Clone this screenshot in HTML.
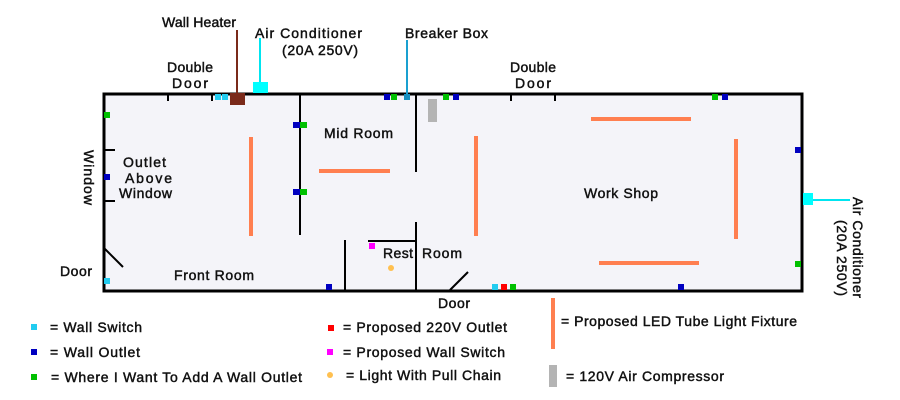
<!DOCTYPE html>
<html><head><meta charset="utf-8"><style>
html,body{margin:0;padding:0;background:#fff;width:900px;height:400px;overflow:hidden}
svg{display:block}
text{font-family:"Liberation Sans",sans-serif;font-size:14px;fill:#111;stroke:#111;stroke-width:0.45px}
</style></head><body>
<svg width="900" height="400" viewBox="0 0 900 400">
<rect x="104" y="94" width="698" height="197" fill="#f4f4f9" stroke="#000" stroke-width="3"/>
<g stroke="#000" stroke-width="2">
<line x1="168" y1="94" x2="168" y2="101"/><line x1="212" y1="94" x2="212" y2="101"/>
<line x1="511" y1="94" x2="511" y2="101"/><line x1="555" y1="94" x2="555" y2="101"/>
<line x1="103" y1="150" x2="115" y2="150"/><line x1="103" y1="201" x2="115" y2="201"/>
<line x1="300" y1="94" x2="300" y2="235"/>
<line x1="416" y1="94" x2="416" y2="172"/>
<line x1="416" y1="222" x2="416" y2="291"/>
<line x1="368" y1="241" x2="416" y2="241"/>
<line x1="345" y1="240" x2="345" y2="291"/>
<line x1="104" y1="248" x2="123" y2="267"/>
<line x1="450" y1="290" x2="468" y2="272"/>
</g>
<g stroke="#ff7f50" stroke-width="4">
<line x1="251" y1="137" x2="251" y2="236"/>
<line x1="319" y1="171" x2="390" y2="171"/>
<line x1="476" y1="136" x2="476" y2="236"/>
<line x1="591" y1="119" x2="691" y2="119"/>
<line x1="736" y1="139" x2="736" y2="239"/>
<line x1="599" y1="263" x2="699" y2="263"/>
<line x1="553" y1="298" x2="553" y2="349"/>
</g>
<line x1="237" y1="30" x2="237" y2="94" stroke="#7a2a1a" stroke-width="2"/>
<rect x="230" y="93" width="15" height="12" fill="#7a2a1a"/>
<line x1="260" y1="38" x2="260" y2="82" stroke="#00e5f0" stroke-width="2"/>
<rect x="253" y="82" width="15" height="11" fill="#00ffff"/>
<line x1="407" y1="40" x2="407" y2="94" stroke="#1aa0d0" stroke-width="2"/>
<rect x="404" y="94" width="6" height="6" fill="#1890c0"/>
<line x1="813" y1="200" x2="850" y2="200" stroke="#00e5f0" stroke-width="2"/>
<rect x="803" y="193" width="10" height="12" fill="#00ffff"/>
<rect x="428" y="99" width="9" height="23" fill="#b4b4b4"/>
<rect x="549" y="365" width="8" height="22" fill="#b4b4b4"/>
<g fill="#22ccf0">
<rect x="215" y="94" width="6" height="6"/><rect x="222" y="94" width="6" height="6"/>
<rect x="104" y="278" width="6" height="6"/><rect x="492" y="284" width="6" height="6"/>
<rect x="31" y="324" width="6" height="6"/>
</g>
<g fill="#0000c0">
<rect x="293" y="122" width="7" height="6"/><rect x="293" y="189" width="7" height="6"/>
<rect x="104" y="174" width="6" height="6"/><rect x="384" y="94" width="6" height="6"/>
<rect x="453" y="94" width="6" height="6"/><rect x="722" y="94" width="6" height="6"/>
<rect x="795" y="147" width="6" height="6"/><rect x="326" y="284" width="6" height="6"/>
<rect x="678" y="284" width="6" height="6"/><rect x="31" y="349" width="6" height="6"/>
</g>
<g fill="#00c000">
<rect x="300" y="122" width="7" height="6"/><rect x="300" y="189" width="7" height="6"/>
<rect x="104" y="112" width="6" height="6"/><rect x="391" y="94" width="6" height="6"/>
<rect x="443" y="94" width="6" height="6"/><rect x="712" y="94" width="6" height="6"/>
<rect x="795" y="261" width="6" height="6"/><rect x="510" y="284" width="6" height="6"/>
<rect x="31" y="374" width="6" height="6"/>
</g>
<rect x="501" y="284" width="6" height="6" fill="#ff0000"/>
<rect x="328" y="325" width="6" height="6" fill="#ff0000"/>
<rect x="369" y="243" width="6" height="6" fill="#ff00ff"/>
<rect x="327" y="349" width="6" height="6" fill="#ff00ff"/>
<circle cx="391" cy="268" r="3" fill="#ffc050"/>
<circle cx="330" cy="375" r="3" fill="#ffc050"/>

<text x="162" y="27" textLength="74">Wall Heater</text>
<text x="255" y="38" textLength="107">Air Conditioner</text>
<text x="282" y="55" textLength="76">(20A 250V)</text>
<text x="405" y="38" textLength="83">Breaker Box</text>
<text x="167" y="72" textLength="46">Double</text>
<text x="172" y="88" textLength="36">Door</text>
<text x="510" y="72" textLength="46">Double</text>
<text x="515" y="88" textLength="36">Door</text>
<text x="324" y="138" textLength="69">Mid Room</text>
<text x="584" y="198" textLength="74">Work Shop</text>
<text x="383" y="258" textLength="30">Rest</text>
<text x="422" y="258" textLength="40">Room</text>
<text x="174" y="280" textLength="80">Front Room</text>
<text x="60" y="276" textLength="32">Door</text>
<text x="438" y="308" textLength="32">Door</text>
<text x="123" y="167" textLength="43">Outlet</text>
<text x="125" y="183" textLength="47">Above</text>
<text x="119" y="198" textLength="53">Window</text>
<text transform="translate(84,150) rotate(90)" x="0" y="0" textLength="55">Window</text>
<text transform="translate(853,197) rotate(90)" x="0" y="0" textLength="101">Air Conditioner</text>
<text transform="translate(837,220) rotate(90)" x="0" y="0" textLength="76">(20A 250V)</text>
<text x="50" y="332" textLength="92">= Wall Switch</text>
<text x="50" y="357" textLength="90">= Wall Outlet</text>
<text x="51" y="382" textLength="251">= Where I Want To Add A Wall Outlet</text>
<text x="343" y="332" textLength="164">= Proposed 220V Outlet</text>
<text x="343" y="357" textLength="162">= Proposed Wall Switch</text>
<text x="346" y="380" textLength="155">= Light With Pull Chain</text>
<text x="561" y="326" textLength="236">= Proposed LED Tube Light Fixture</text>
<text x="566" y="381" textLength="158">= 120V Air Compressor</text>
</svg>
</body></html>
